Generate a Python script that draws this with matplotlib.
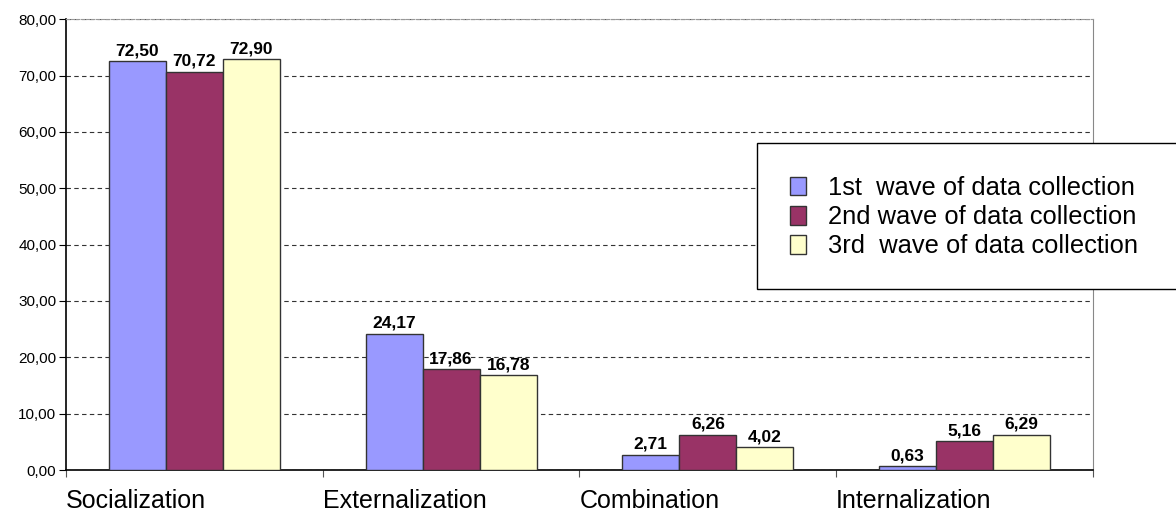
import matplotlib
matplotlib.use("Agg")
import matplotlib.pyplot as plt
from matplotlib.patches import Rectangle
import numpy as np

# ── Data ──────────────────────────────────────────────────────────────────────
categories = ["Socialization", "Externalization", "Combination", "Internalization"]
wave1 = [72.50, 24.17, 2.71, 0.63]
wave2 = [70.72, 17.86, 6.26, 5.16]
wave3 = [72.90, 16.78, 4.02, 6.29]
series_names = ["1st  wave of data collection",
                "2nd wave of data collection",
                "3rd  wave of data collection"]
colors = ["#9999FF", "#993366", "#FFFFCC"]

# ── Style ─────────────────────────────────────────────────────────────────────
plt.rcParams["font.family"] = ["Liberation Sans", "DejaVu Sans"]

fig = plt.figure(figsize=(11.76, 5.14), dpi=100, facecolor="white")
ax = fig.add_axes([0.0561, 0.0856, 0.8733, 0.877])

x = np.arange(len(categories))
width = 1 / 4.5
for i, (vals, name, col) in enumerate(zip([wave1, wave2, wave3], series_names, colors)):
    pos = x + (i - 1) * width
    ax.bar(pos, vals, width=width, color=col, edgecolor="#333333",
           lw=1.0, label=name, zorder=3)
    for p, v in zip(pos, vals):
        ax.text(p, v + 0.5, f"{v:.2f}".replace(".", ","), ha="center", va="bottom",
                fontsize=12.5, fontweight="bold", zorder=4)

# ── Axes ──────────────────────────────────────────────────────────────────────
ax.set_xlim(-0.5, len(categories) - 0.5)
ax.set_ylim(0, 80)
yt = np.arange(0, 81, 10)
ax.set_yticks(yt)
ax.set_yticklabels([f"{v:.2f}".replace(".", ",") for v in yt], fontsize=11)
ax.set_xticks(np.arange(-0.5, len(categories), 1))
ax.set_xticklabels([])
ax.tick_params(axis="x", direction="out", length=5, color="#555555")
ax.tick_params(axis="y", direction="out", length=5, pad=2)

for i, c in enumerate(categories):
    ax.text(i - 0.5, -5.5, c, ha="left", va="center", fontsize=18)

ax.yaxis.grid(True, ls=(0, (4, 3)), color="#333333", lw=0.8, zorder=0)
ax.spines["top"].set_color("#999999")
ax.spines["top"].set_linestyle((0, (3, 1.5)))
ax.spines["right"].set_color("#888888")
for sp in ["left", "bottom"]:
    ax.spines[sp].set_color("black")
    ax.spines[sp].set_linewidth(1.2)

# legend box runs off the right edge in the original
box = Rectangle((757 / 1176, 1 - 289 / 514), 440 / 1176, 146 / 514,
                transform=fig.transFigure, facecolor="white", edgecolor="black",
                lw=1.0, zorder=5)
fig.patches.append(box)

leg = fig.legend(loc="upper left", bbox_to_anchor=(757 / 1176, 1 - 143 / 514),
                 fontsize=18.4, frameon=False, borderpad=1.3,
                 handlelength=0.63, handleheight=0.72, handletextpad=0.85,
                 labelspacing=0.2, borderaxespad=0)
leg.set_zorder(6)
for h in leg.legend_handles:
    h.set_edgecolor("#333333")

fig.savefig("out.png", dpi=100, facecolor="white")
plt.close(fig)
